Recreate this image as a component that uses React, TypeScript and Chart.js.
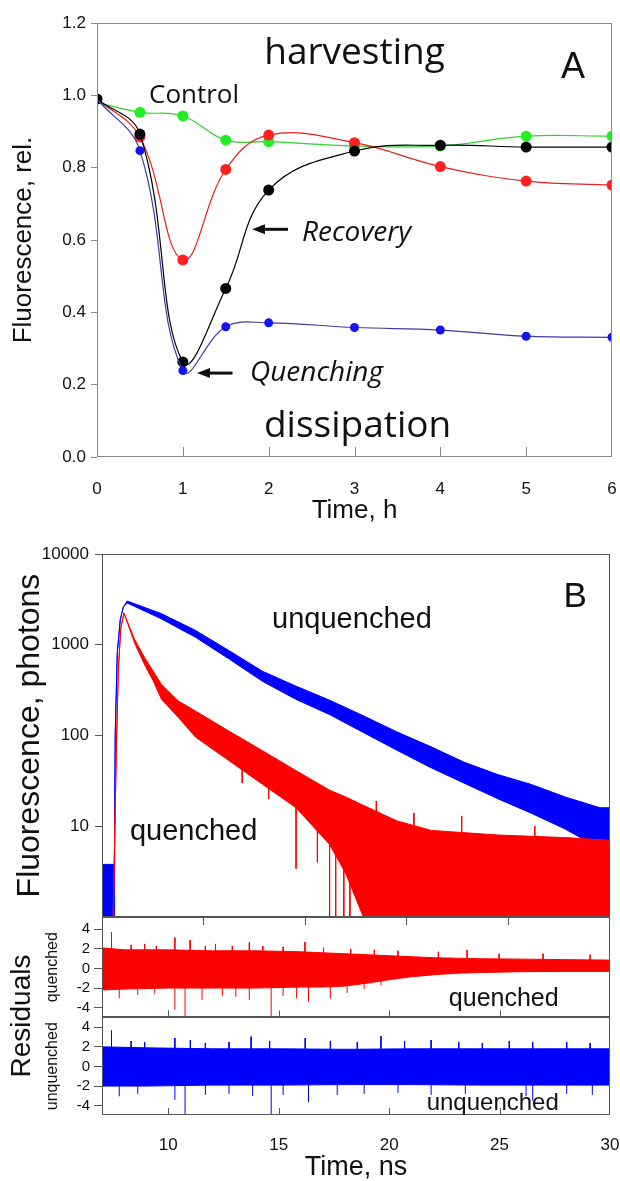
import React, { useEffect, useRef } from 'react';
import { Chart, registerables } from 'chart.js';
Chart.register(...registerables);

const SANS = '"Liberation Sans", Arial, sans-serif';
const OPEN = '"Open Sans", "DejaVu Sans", sans-serif';
const INK = '#111';

// ---------------- Panel A: relative fluorescence vs time (h) ----------------
const hoursA = [0, 0.5, 1, 1.5, 2, 3, 4, 5, 6];
const controlA = [0.98, 0.953, 0.943, 0.876, 0.872, 0.86, 0.86, 0.887, 0.887];
const harvestA = [0.99, 0.885, 0.545, 0.795, 0.89, 0.869, 0.803, 0.763, 0.752];
const recoveryA = [0.99, 0.893, 0.263, 0.466, 0.738, 0.846, 0.862, 0.857, 0.857];
const quenchA = [0.99, 0.847, 0.239, 0.36, 0.371, 0.358, 0.351, 0.334, 0.331];
const yTicksA = [0, 0.2, 0.4, 0.6, 0.8, 1.0, 1.2];
const xTicksA = [0, 1, 2, 3, 4, 5, 6];

// ---------------- Panel B: decay traces (envelopes) ----------------
const unqT = [5.0, 5.6, 5.62, 5.65, 5.75, 5.9, 6.05, 6.24, 7.93, 9.6, 11.24, 12.9, 14.55, 16.2, 17.86, 19.5, 21.2, 22.8, 24.5, 26.1, 27.8, 29.5, 30];
const unqHi = [3.8, 3.8, 12, 100, 800, 1900, 2600, 3030, 2200, 1440, 865, 510, 350, 245, 165, 110, 75, 51, 37, 29, 21, 16, 16];
const unqLo = [1, 1, 6, 100, 800, 1900, 2600, 2890, 1925, 1210, 700, 395, 250, 170, 108, 69, 44, 30, 20, 14, 9.3, 5.7, 4.3];

const qT = [5.55, 5.7, 5.8, 5.92, 6.08, 6.6, 7.1, 7.52, 7.93, 8.76, 9.6, 11.24, 12.9, 14.55, 16.2, 17.0, 17.86, 19.5, 21.2, 24.5, 27.8, 30];
const qHi = [1, 60, 500, 1500, 2240, 1150, 720, 510, 365, 240, 186, 112, 68, 41, 25, 21, 17, 11.5, 9, 8, 7.5, 7];
const qLo = [1, 60, 500, 1500, 2240, 1050, 600, 400, 250, 158, 96, 53, 29, 16, 6.3, 3, 1, 1, 1, 1, 1, 1];
const qSpikeT = [11.9, 13.2, 14.55, 15.6, 16.2, 16.5, 16.9, 17.2, 18.5, 20.35, 22.7, 26.3];
const qSpikeHi = [60, 40, 25, 18, 15, 14, 12, 12, 19, 14, 13, 10];
const qSpikeLo = [30, 20, 3.4, 4, 1, 1, 1, 1, 8, 7, 7, 6];
const yTicksB = [10, 100, 1000, 10000];
const xTicksB = [10, 15, 20, 25];

// ---------------- Residuals ----------------
const resQT = [7, 8, 10, 12, 14, 16, 17, 18, 19, 20, 21, 22, 23, 24, 26, 28, 30];
const resQHi = [2.1, 1.9, 1.9, 1.8, 1.8, 1.7, 1.6, 1.5, 1.4, 1.3, 1.2, 1.1, 1.05, 1.0, 0.95, 0.9, 0.85];
const resQLo = [-2.2, -2.1, -2.0, -2.0, -2.0, -1.9, -1.9, -1.8, -1.5, -1.15, -0.85, -0.65, -0.5, -0.42, -0.33, -0.3, -0.3];
const resQSpikeT = [7.43, 8.32, 8.93, 9.46, 10.3, 10.99, 11.68, 12.14, 12.9, 13.67, 14.28, 15.2, 16.19, 17.03, 18.26, 19.33, 20.4, 22.23, 23.53, 24.98, 26.97, 29.1,
  7.78, 8.62, 9.39, 10.3, 10.76, 11.53, 12.45, 13.06, 13.67, 14.66, 15.2, 15.81, 16.35, 17.34, 18.1, 18.87, 19.63];
const resQSpikeV = [3.7, 2.4, 2.5, 2.3, 3.15, 2.9, 2.3, 2.5, 2.3, 2.65, 2.3, 2.2, 2.7, 2.1, 2.0, 1.9, 1.8, 1.7, 1.9, 1.5, 1.5, 1.4,
  -3.05, -2.7, -2.6, -4.2, -5, -3.2, -2.8, -2.9, -3.2, -5, -2.8, -3.05, -3.4, -3.05, -2.5, -2.1, -1.7];

const resUT = [7, 9, 12, 15, 18, 21, 24, 27, 30];
const resUHi = [2.0, 1.9, 1.8, 1.8, 1.75, 1.8, 1.8, 1.8, 1.8];
const resULo = [-2.0, -2.0, -1.9, -1.9, -1.85, -1.85, -1.9, -1.9, -1.9];
const resUSpikeT = [7.43, 8.32, 8.93, 10.3, 11.0, 11.68, 12.75, 13.75, 14.59, 16.2, 17.34, 18.56, 19.63, 20.7, 21.9, 23.15, 24.22, 25.44, 26.5, 28.04, 29.1,
  7.78, 8.62, 10.3, 10.76, 11.68, 12.75, 13.82, 14.66, 15.2, 16.35, 17.65, 18.87, 20.4, 21.9, 23.45, 26.2, 26.5, 28.04, 29.2];
const resUSpikeV = [3.66, 2.6, 2.5, 2.9, 2.7, 2.4, 2.5, 3.05, 2.6, 2.9, 2.6, 2.5, 3.1, 2.6, 2.7, 2.5, 2.4, 2.6, 2.5, 2.5, 2.4,
  -3.05, -2.8, -3.4, -4.95, -2.9, -2.8, -3.0, -4.95, -2.9, -3.65, -2.9, -2.8, -2.7, -2.9, -2.8, -3.05, -3.5, -2.8, -2.9];
const resTicks = [-4, -2, 0, 2, 4];
const xTicksR = [10, 15, 20, 25, 30];

// ---------------- helpers ----------------
const pts = (xs: number[], ys: number[]) => xs.map((x, i) => ({ x, y: ys[i] }));
const segs = (xs: number[], hi: number[], lo: number[]) =>
  xs.flatMap((x, i) => [{ x, y: hi[i] }, { x, y: lo[i] }, { x, y: null as any }]);
const setTicks = (vals: number[]) => (s: any) => { s.ticks = vals.map((v) => ({ value: v })); };
const fixSize = (w: number | null, h: number | null) => (s: any) => {
  if (w !== null) s.width = w;
  if (h !== null) s.height = h;
  s.paddingTop = 0; s.paddingBottom = 0; s.paddingLeft = 0; s.paddingRight = 0;
};

const base: any = {
  responsive: false,
  animation: false,
  devicePixelRatio: 1,
  events: [],
  plugins: { legend: { display: false }, tooltip: { enabled: false } },
};

function drawNotes(chart: any, notes: any[]) {
  const ctx = chart.ctx;
  ctx.save();
  ctx.fillStyle = INK;
  ctx.strokeStyle = INK;
  for (const n of notes) {
    const xs = chart.scales[n.xAxis || 'x'];
    const ys = chart.scales[n.yAxis || 'y'];
    if (n.arrow) {
      const x1 = xs.getPixelForValue(n.tail), x2 = xs.getPixelForValue(n.tip), y = ys.getPixelForValue(n.y);
      ctx.lineWidth = 3;
      ctx.beginPath(); ctx.moveTo(x1, y); ctx.lineTo(x2 + 10, y); ctx.stroke();
      ctx.beginPath(); ctx.moveTo(x2, y); ctx.lineTo(x2 + 13, y - 5); ctx.lineTo(x2 + 13, y + 5); ctx.closePath(); ctx.fill();
      continue;
    }
    ctx.font = n.font;
    ctx.textAlign = n.align || 'center';
    ctx.textBaseline = 'middle';
    ctx.fillText(n.text, xs.getPixelForValue(n.x), ys.getPixelForValue(n.y));
  }
  ctx.restore();
}

const notesA = [
  { text: 'harvesting', x: 3.0, y: 1.117, font: `37px ${OPEN}` },
  { text: 'A', x: 5.546, y: 1.075, font: `36px ${SANS}` },
  { text: 'Control', x: 0.606, y: 1.0, font: `26px ${OPEN}`, align: 'left' },
  { text: 'Recovery', x: 2.388, y: 0.62, font: `italic 28px ${OPEN}`, align: 'left' },
  { arrow: true, tip: 1.806, tail: 2.225, y: 0.6295 },
  { text: 'Quenching', x: 1.783, y: 0.232, font: `italic 28px ${OPEN}`, align: 'left' },
  { arrow: true, tip: 1.165, tail: 1.579, y: 0.232 },
  { text: 'dissipation', x: 3.036, y: 0.084, font: `37px ${OPEN}` },
];

const notesB = [
  { text: 'B', x: 28.28, y: 3357, font: `35px ${SANS}` },
  { text: 'unquenched', x: 17.3, y: 1870, font: `29px ${SANS}` },
  { text: 'quenched', x: 9.51, y: 8.6, font: `29px ${SANS}` },
];

const notesR = [
  { text: 'quenched', x: 25.19, y: -3.15, yAxis: 'yq', font: `25px ${SANS}` },
  { text: 'unquenched', x: 24.69, y: -3.73, yAxis: 'yu', font: `24px ${SANS}` },
];

function frame(ctx: any, l: number, t: number, r: number, b: number, color: string) {
  ctx.save();
  ctx.strokeStyle = color;
  ctx.lineWidth = 1;
  ctx.strokeRect(Math.round(l) + 0.5, Math.round(t) + 0.5, Math.round(r - l) - 1, Math.round(b - t) - 1);
  ctx.restore();
}

function innerTicks(ctx: any, xs: any, yPix: number, vals: number[], len: number, color: string) {
  ctx.save();
  ctx.strokeStyle = color;
  ctx.lineWidth = 1;
  for (const v of vals) {
    const x = Math.round(xs.getPixelForValue(v)) + 0.5;
    ctx.beginPath(); ctx.moveTo(x, yPix); ctx.lineTo(x, yPix - len); ctx.stroke();
  }
  ctx.restore();
}

// ---------------- configs ----------------
function cfgA(): any {
  const line = (ys: number[], line: string, dot: string, r: number, firstDot: boolean) => ({
    data: pts(hoursA, ys), borderColor: line, borderWidth: 1.2, tension: 0.4,
    pointRadius: ys.map((_, i) => (i === 0 && !firstDot ? 0 : r)),
    pointBackgroundColor: dot, pointBorderColor: dot, pointBorderWidth: 0, fill: false,
  });
  return {
    type: 'line',
    data: {
      datasets: [
        line(quenchA, '#3c3ca6', '#1414ee', 4.5, false),
        line(recoveryA, '#000000', '#000000', 5.5, true),
        line(harvestA, '#e82020', '#ff2020', 5.5, false),
        line(controlA, '#30d030', '#22ee22', 5.5, false),
      ],
    },
    options: {
      ...base,
      layout: { padding: { top: 23, right: 8, left: 0, bottom: 0 } },
      scales: {
        x: {
          type: 'linear', min: 0, max: 6,
          afterBuildTicks: setTicks(xTicksA),
          afterFit: fixSize(null, 69),
          grid: { display: false }, border: { display: false },
          ticks: { autoSkip: false, padding: 14.5, color: INK, font: { family: SANS, size: 17 }, callback: (v: any) => String(v) },
          title: { display: true, text: 'Time, h', color: INK, font: { family: SANS, size: 26 }, padding: { top: 0, bottom: 0 } },
        },
        y: {
          type: 'linear', min: 0, max: 1.2,
          afterBuildTicks: setTicks(yTicksA),
          afterFit: fixSize(97, null),
          grid: { drawOnChartArea: false, drawTicks: true, tickLength: 6, color: '#888' }, border: { display: false },
          ticks: { autoSkip: false, padding: 5, color: INK, font: { family: SANS, size: 17 }, callback: (v: any) => Number(v).toFixed(1) },
          title: { display: true, text: 'Fluorescence, rel.', color: INK, font: { family: SANS, size: 26 }, padding: { top: 8, bottom: 0 } },
        },
      },
    },
    plugins: [{
      id: 'decorA',
      afterDraw(chart: any) {
        const a = chart.chartArea;
        frame(chart.ctx, a.left, a.top, a.right, a.bottom, '#888');
        innerTicks(chart.ctx, chart.scales.x, a.bottom, xTicksA.slice(1, -1), 10, '#888');
        drawNotes(chart, notesA);
      },
    }],
  };
}

function cfgB(): any {
  const band = (xs: number[], ys: number[], color: string, fill: any) => ({
    data: pts(xs, ys), borderColor: color, backgroundColor: color, borderWidth: 1, pointRadius: 0, tension: 0, fill,
  });
  return {
    type: 'line',
    data: {
      datasets: [
        band(qT, qLo, '#ff0000', false),
        band(qT, qHi, '#ff0000', '-1'),
        { data: segs(qSpikeT, qSpikeHi, qSpikeLo), borderColor: '#ff0000', borderWidth: 1, pointRadius: 0, fill: false, spanGaps: false },
        band(unqT, unqLo, '#0000ff', false),
        band(unqT, unqHi, '#0000ff', '-1'),
      ],
    },
    options: {
      ...base,
      layout: { padding: { top: 28, right: 10, left: 0, bottom: 0 } },
      scales: {
        x: {
          type: 'linear', min: 5, max: 30,
          afterBuildTicks: setTicks(xTicksB),
          afterFit: fixSize(null, 8),
          grid: { drawOnChartArea: false, drawTicks: true, tickLength: 8, color: '#555' }, border: { display: false },
          ticks: { display: false },
        },
        y: {
          type: 'logarithmic', min: 1, max: 10000,
          afterBuildTicks: setTicks(yTicksB),
          afterFit: fixSize(102, null),
          grid: { drawOnChartArea: false, drawTicks: true, tickLength: 7, color: '#555' }, border: { display: false },
          ticks: { autoSkip: false, padding: 6, color: INK, font: { family: SANS, size: 17 }, callback: (v: any) => String(v) },
          title: { display: true, text: 'Fluorescence, photons', color: INK, font: { family: SANS, size: 32 }, padding: { top: 11, bottom: 0 } },
        },
      },
    },
    plugins: [{
      id: 'decorB',
      afterDraw(chart: any) {
        const a = chart.chartArea;
        frame(chart.ctx, a.left, a.top, a.right, a.bottom, '#555');
        drawNotes(chart, notesB);
      },
    }],
  };
}

function cfgR(): any {
  const band = (xs: number[], ys: number[], color: string, fill: any, axis: string) => ({
    data: pts(xs, ys), yAxisID: axis, borderColor: color, backgroundColor: color, borderWidth: 1, pointRadius: 0, tension: 0, fill,
  });
  const spikes = (xs: number[], vs: number[], color: string, axis: string) => ({
    data: segs(xs, vs, vs.map(() => 0)), yAxisID: axis, borderColor: color, borderWidth: 1, pointRadius: 0, fill: false, spanGaps: false,
  });
  const yAxis = (min: number, max: number, weight: number, title: string) => ({
    type: 'linear', position: 'left', stack: 'res', stackWeight: weight, min, max,
    afterBuildTicks: setTicks(resTicks),
    afterFit: fixSize(102, null),
    grid: { drawOnChartArea: false, drawTicks: true, tickLength: 8, color: '#555' }, border: { display: false },
    ticks: { autoSkip: false, padding: 4, color: INK, font: { family: SANS, size: 15, lineHeight: 1 }, callback: (v: any) => String(v) },
    title: { display: true, text: title, color: INK, font: { family: SANS, size: 16 }, padding: { top: 43, bottom: 0 } },
  });
  return {
    type: 'line',
    data: {
      datasets: [
        band(resQT, resQLo, '#ff0000', false, 'yq'),
        band(resQT, resQHi, '#ff0000', '-1', 'yq'),
        spikes(resQSpikeT, resQSpikeV, '#ff0000', 'yq'),
        band(resUT, resULo, '#0000ff', false, 'yu'),
        band(resUT, resUHi, '#0000ff', '-1', 'yu'),
        spikes(resUSpikeT, resUSpikeV, '#0000ff', 'yu'),
      ],
    },
    options: {
      ...base,
      layout: { padding: { top: 0, right: 10, left: 0, bottom: 0 } },
      scales: {
        x: {
          type: 'linear', min: 7, max: 30,
          afterBuildTicks: setTicks(xTicksR),
          afterFit: fixSize(null, 66),
          grid: { display: false }, border: { display: false },
          ticks: { autoSkip: false, padding: 11.8, color: INK, font: { family: SANS, size: 17 }, callback: (v: any) => String(v) },
          title: { display: true, text: 'Time, ns', color: INK, font: { family: SANS, size: 27, lineHeight: 1 }, padding: { top: 0, bottom: 0 } },
        },
        yu: yAxis(-4.95, 5.0, 97.7, 'unquenched'),
        yq: yAxis(-5, 5.25, 100.6, 'quenched'),
      },
    },
    plugins: [{
      id: 'decorR',
      afterDraw(chart: any) {
        const a = chart.chartArea;
        const ctx = chart.ctx;
        for (const id of ['yq', 'yu']) {
          const s = chart.scales[id];
          frame(ctx, a.left, s.top, a.right, s.bottom, '#555');
          innerTicks(ctx, chart.scales.x, s.bottom, xTicksR.slice(0, -1), 7, '#555');
        }
        ctx.save();
        ctx.fillStyle = INK;
        ctx.font = `28px ${SANS}`;
        ctx.textAlign = 'center';
        ctx.textBaseline = 'middle';
        ctx.translate(22, (a.top + a.bottom) / 2);
        ctx.rotate(-Math.PI / 2);
        ctx.fillText('Residuals', 0, 0);
        ctx.restore();
        drawNotes(chart, notesR);
      },
    }],
  };
}

export default function App() {
  const refA = useRef<HTMLCanvasElement>(null);
  const refB = useRef<HTMLCanvasElement>(null);
  const refR = useRef<HTMLCanvasElement>(null);
  useEffect(() => {
    const charts = [
      new Chart(refR.current as any, cfgR()),
      new Chart(refB.current as any, cfgB()),
      new Chart(refA.current as any, cfgA()),
    ];
    return () => charts.forEach((c) => c.destroy());
  }, []);
  const cs = (top: number, h: number): any => ({ position: 'absolute', left: 0, top, width: 620, height: h });
  return (
    <div style={{ position: 'absolute', left: 0, top: 0, width: 620, height: 1181, background: '#fff', overflow: 'hidden' }}>
      <canvas ref={refR} width={620} height={264} style={cs(917, 264)} />
      <canvas ref={refB} width={620} height={399} style={cs(526, 399)} />
      <canvas ref={refA} width={620} height={526} style={cs(0, 526)} />
    </div>
  );
}
